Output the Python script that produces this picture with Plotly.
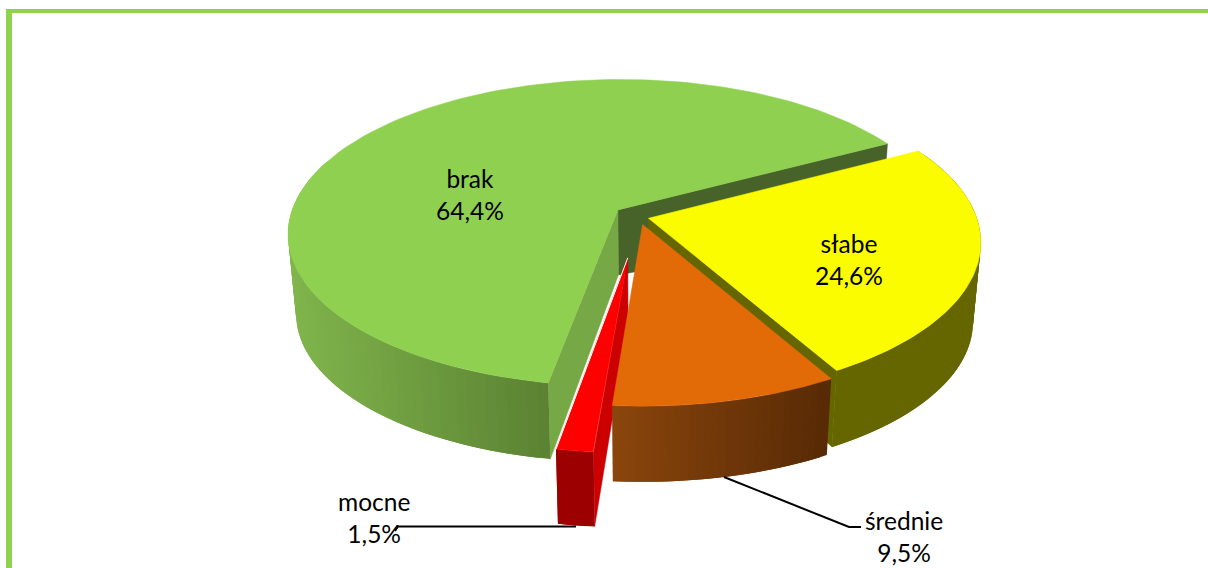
import math
import plotly.graph_objects as go

# Data (clockwise from the rotation start)
categories = ["słabe", "średnie", "mocne", "brak"]
values = [24.6, 9.5, 1.5, 64.4]
value_labels = ["24,6%", "9,5%", "1,5%", "64,4%"]

# Styling
explode = [0.03, 0.05, 0.26, 0.08]
top_colors = ["#fcfc00", "#e26b08", "#ff0000", "#90d051"]
label_xy = [(849, 259), (904, 536), (374, 517), (470, 194)]
START = 61.8
CX, CY, RX, RY, PERSP = 639.0, 217.0, 328.0, 152.0, 0.15
DEPTH, SCALE_BOTTOM, HUB_DEPTH = 80.0, 0.977, 65.0

fig = go.Figure()


def plane(theta, r=1.0, e=0.0, mid=0.0):
    t, m = math.radians(theta), math.radians(mid)
    return r * math.sin(t) + e * math.sin(m), -r * math.cos(t) - e * math.cos(m)


def top(u, v):
    w = 1 - PERSP * v
    return CX + RX * u / w, CY + RY * v / w


def bottom(u, v):
    x, y = top(u, v)
    return CX + (x - CX) * SCALE_BOTTOM, CY + DEPTH + (y - CY) * SCALE_BOTTOM


def poly(pts, color, line=0.5):
    xs = [p[0] for p in pts] + [pts[0][0]]
    ys = [p[1] for p in pts] + [pts[0][1]]
    fig.add_trace(go.Scatter(x=xs, y=ys, mode="lines", fill="toself", fillcolor=color,
                             line=dict(color=color, width=line),
                             hoverinfo="skip", showlegend=False))


def mix(a, b, t):
    ca = [int(a[i:i + 2], 16) for i in (1, 3, 5)]
    cb = [int(b[i:i + 2], 16) for i in (1, 3, 5)]
    return "#" + "".join(f"{round(x + (y - x) * t):02x}" for x, y in zip(ca, cb))


# slice geometry from the values
spans = {}
a = START
for name, val, ex in zip(categories, values, explode):
    sp = val * 3.6
    spans[name] = (a, a + sp, a + sp / 2, ex)
    a += sp


def arc(name, a0=None, a1=None, n=120):
    s, e, m, ex = spans[name]
    a0 = s if a0 is None else a0
    a1 = e if a1 is None else a1
    return [plane(a0 + (a1 - a0) * i / n, 1.0, ex, m) for i in range(n + 1)]


def hub(name):
    _, _, m, ex = spans[name]
    return plane(0, 0.0, ex, m)


def cut_wall(name, edge_angle, color):
    _, _, m, ex = spans[name]
    p = plane(edge_angle, 1.0, ex, m)
    hx, hy = top(*hub(name))
    poly([(hx, hy), top(*p), bottom(*p), (CX + (hx - CX) * SCALE_BOTTOM, hy + HUB_DEPTH)], color)


def outer_wall(name, a0, a1, c_left, c_right, strips=60):
    # Strips overlap the next one, so later strips paint over the joint without seams
    pts = arc(name, a0, a1, strips)
    xs = [top(*p)[0] for p in pts]
    xmin, xmax = min(xs), max(xs)
    for i in range(strips):
        rest = pts[i:i + 3]
        t = ((xs[i] + xs[i + 1]) / 2 - xmin) / (xmax - xmin)
        poly([top(*p) for p in rest] + [bottom(*p) for p in reversed(rest)],
             mix(c_left, c_right, t), line=0)


def top_face(name, color):
    poly([top(*hub(name))] + [top(*p) for p in arc(name)], color)


# brak
s, e, m, ex = spans["brak"]
cut_wall("brak", e, "#47632a")
cut_wall("brak", s, "#76a846")
outer_wall("brak", s, s + 100, "#80b54c", "#5b8232", 60)
top_face("brak", top_colors[3])

# słabe
s, e, m, ex = spans["słabe"]
cut_wall("słabe", e, "#666600")
outer_wall("słabe", s, e, "#666600", "#666600", 60)
top_face("słabe", top_colors[0])

# mocne
s, e, m, ex = spans["mocne"]
cut_wall("mocne", s, "#cc0000")
outer_wall("mocne", s, e, "#9c0000", "#9c0000", 4)
top_face("mocne", top_colors[2])
hx, hy = top(*hub("mocne"))
px, py = top(*plane(e, 1.0, ex, m))
fig.add_trace(go.Scatter(x=[hx, px], y=[hy, py], mode="lines", line=dict(color="#ffffff", width=1),
                         hoverinfo="skip", showlegend=False))

# średnie
s, e, m, ex = spans["średnie"]
outer_wall("średnie", s, e, "#8a450c", "#572a05", 30)
top_face("średnie", top_colors[1])

# leader lines
fig.add_trace(go.Scatter(x=[395, 398, 576], y=[531, 526.5, 526.5], mode="lines",
                         line=dict(color="#000000", width=2), hoverinfo="skip", showlegend=False))
fig.add_trace(go.Scatter(x=[724, 849, 861], y=[477, 527, 527], mode="lines",
                         line=dict(color="#000000", width=2), hoverinfo="skip", showlegend=False))

# labels
annotations = [
    dict(x=x, y=y, xref="x", yref="y", text=f"{c}<br>{v}", showarrow=False,
         font=dict(family="Lato, Carlito, sans-serif", size=24.5, color="#000000"), align="center")
    for c, v, (x, y) in zip(categories, value_labels, label_xy)
]

# outer frame
shapes = [
    dict(type="rect", xref="x", yref="y", x0=6, x1=1208, y0=9, y1=13, fillcolor="#92d050", line_width=0, layer="below"),
    dict(type="rect", xref="x", yref="y", x0=6, x1=12, y0=9, y1=568, fillcolor="#92d050", line_width=0, layer="below"),
]

fig.update_layout(
    width=1208, height=568, margin=dict(l=0, r=0, t=0, b=0),
    paper_bgcolor="#ffffff", plot_bgcolor="#ffffff", showlegend=False,
    xaxis=dict(range=[0, 1208], visible=False, fixedrange=True),
    yaxis=dict(range=[568, 0], visible=False, fixedrange=True),
    annotations=annotations, shapes=shapes,
)
fig.write_html("out.html", config={"displayModeBar": False},
               post_script="document.body.style.margin='0';document.documentElement.style.overflow='hidden';")
